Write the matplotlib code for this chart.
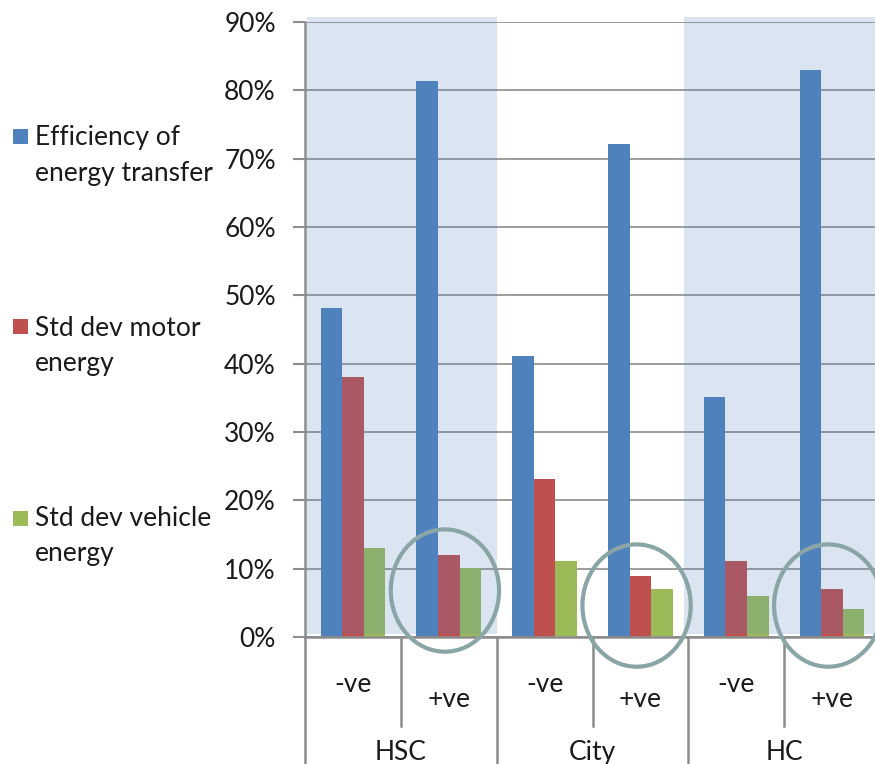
import matplotlib
matplotlib.use("Agg")
import matplotlib.pyplot as plt
import numpy as np
from matplotlib.patches import Ellipse, Rectangle
import matplotlib.transforms as mtransforms

plt.rcParams['font.family'] = ['Lato', 'DejaVu Sans']

# data (percent)
groups = ['HSC', 'City', 'HC']
cats = ['-ve', '+ve', '-ve', '+ve', '-ve', '+ve']
efficiency = [48.2, 81.3, 41.1, 72.1, 35.1, 83.0]
motor_sd = [38.0, 12.0, 23.1, 8.9, 11.1, 7.0]
vehicle_sd = [13.0, 10.1, 11.1, 7.0, 6.0, 4.1]
series_names = ['Efficiency of\nenergy transfer', 'Std dev motor\nenergy', 'Std dev vehicle\nenergy']
colors = ['#4F81BD', '#C0504D', '#9BBB59']
yticks = [0, 10, 20, 30, 40, 50, 60, 70, 80, 90]
shaded_groups = [0, 2]      # HSC and HC get the blue band
circled = [1, 3, 5]         # the +ve columns
circle_mid = [6.8, 4.6, 4.6]  # vertical centre of each circle, %

fs = 19
txt_c = '#1a1a1a'
grid_c = '#8c8c8c'

fig = plt.figure(figsize=(8.75, 7.64), dpi=100)
ax = fig.add_axes([305 / 875, 1 - 637 / 764, 575 / 875, 615 / 764])

x = np.arange(len(cats))
bw = 0.225
for k, vals in enumerate([efficiency, motor_sd, vehicle_sd]):
    ax.bar(x + (k - 1) * bw, vals, bw, color=colors[k], zorder=2, linewidth=0)

ax.set_xlim(-0.5, len(cats) - 0.5)
ax.set_ylim(0, 90)
ax.set_yticks(yticks)
ax.set_yticklabels([f'{t}%' for t in yticks], fontsize=fs, color=txt_c)
ax.yaxis.grid(True, color=grid_c, lw=1.2, zorder=0)
ax.set_axisbelow(True)
ax.tick_params(axis='y', length=9, width=1.5, color=grid_c, pad=12)
ax.tick_params(axis='x', length=0, labelbottom=False)
for s in ['top', 'right']:
    ax.spines[s].set_visible(False)
for s in ['left', 'bottom']:
    ax.spines[s].set_color(grid_c)
    ax.spines[s].set_linewidth(1.8)

# translucent blue bands drawn over the bars
for g in shaded_groups:
    x0 = 2 * g - 0.5 + (0.02 if g == 0 else -0.05)
    ax.add_patch(Rectangle((x0, 0.45), 2 * g + 1.5 - x0, 90.75 - 0.45,
                           facecolor='#4F81BD', alpha=0.2, lw=0, zorder=3, clip_on=False))

# two-level category axis
tr = mtransforms.blended_transform_factory(ax.transData, ax.transAxes)
for i in range(len(cats) + 1):
    xb = i - 0.5
    ybot = -0.145 if i % 2 == 1 else -0.25
    ax.plot([xb, xb], [0, ybot], transform=tr, color=grid_c, lw=1.8, clip_on=False)
for i, c in enumerate(cats):
    ax.text(i, -0.078 if i % 2 == 0 else -0.101, c, transform=tr, ha='center', va='center',
            fontsize=fs, color=txt_c)
for g, name in enumerate(groups):
    ax.text(2 * g + 0.5, -0.188, name, transform=tr, ha='center', va='center',
            fontsize=fs, color=txt_c)

# circles around the +ve columns
for i, yc in zip(circled, circle_mid):
    ax.add_patch(Ellipse((i - 0.04, yc), 1.13, 17.9, fill=False, edgecolor='#8AA5A5',
                         lw=3, zorder=4, clip_on=False))

# legend on the left
leg_y = [155, 346, 536]
sq_top = [129, 319, 511]
for k, name in enumerate(series_names):
    fig.add_artist(Rectangle((13 / 875, 1 - (sq_top[k] + 15) / 764), 15 / 875, 15 / 764,
                             transform=fig.transFigure, facecolor=colors[k], lw=0))
    fig.text(35 / 875, 1 - leg_y[k] / 764, name, ha='left', va='center', fontsize=fs,
             color=txt_c, linespacing=1.55)

fig.savefig('out.png', dpi=100)
